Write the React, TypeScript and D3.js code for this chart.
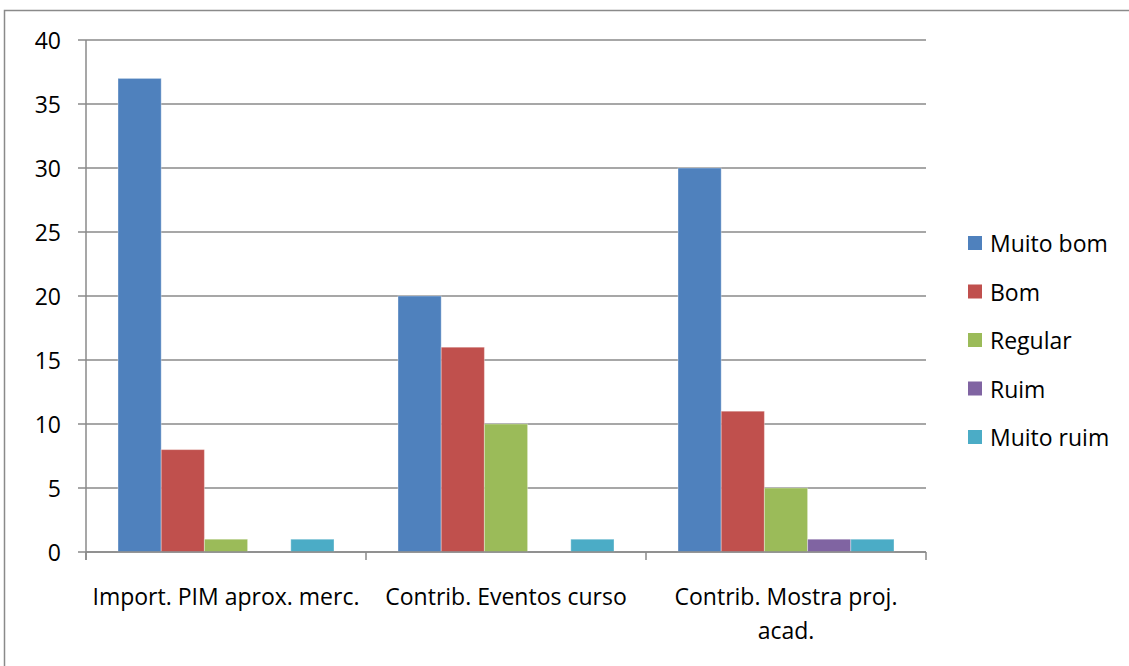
import React, { useEffect, useRef } from "react";
import * as d3 from "d3";

const categories = ["Import. PIM aprox. merc.", "Contrib. Eventos curso", "Contrib. Mostra proj. acad."];
const categoryLines = [["Import. PIM aprox. merc."], ["Contrib. Eventos curso"], ["Contrib. Mostra proj.", "acad."]];
const seriesNames = ["Muito bom", "Bom", "Regular", "Ruim", "Muito ruim"];
const seriesColors = ["#4F81BD", "#C0504D", "#9BBB59", "#8064A2", "#4BACC6"];
const muitoBom = [37, 20, 30];
const bom = [8, 16, 11];
const regular = [1, 10, 5];
const ruim = [0, 0, 1];
const muitoRuim = [1, 1, 1];
const yTicks = [0, 5, 10, 15, 20, 25, 30, 35, 40];

const W = 1129;
const H = 666;
const FONT = "'Open Sans', sans-serif";
const FS = 23;

export default function App() {
  const ref = useRef<SVGSVGElement>(null);
  useEffect(() => {
    const svg = d3.select(ref.current);
    svg.selectAll("*").remove();
    const series = [muitoBom, bom, regular, ruim, muitoRuim];
    const left = 86, right = 926, top = 40, bottom = 552;

    // outer border (clipped at right/bottom)
    svg.append("rect").attr("x", 4.5).attr("y", 10.5).attr("width", W + 20).attr("height", H + 20)
      .attr("fill", "white").attr("stroke", "#8a8a8a").attr("stroke-width", 1.5);

    const y = d3.scaleLinear().domain([0, 40]).range([bottom, top]);
    const x0 = d3.scaleBand<string>().domain(categories).range([left, right]).padding(0);
    const gap = 32;
    const x1 = d3.scaleBand<string>().domain(seriesNames).range([gap, x0.bandwidth() - gap]).padding(0);

    // gridlines + y labels
    const g = svg.append("g");
    yTicks.forEach((t) => {
      g.append("line").attr("x1", 78).attr("x2", right).attr("y1", y(t)).attr("y2", y(t))
        .attr("stroke", "#8a8a8a").attr("stroke-width", 1.5);
      g.append("text").attr("x", 61).attr("y", y(t)).attr("text-anchor", "end")
        .attr("dominant-baseline", "central").attr("font-family", FONT).attr("font-size", FS)
        .attr("fill", "#000").text(String(t));
    });

    // bars
    categories.forEach((c, ci) => {
      seriesNames.forEach((s, si) => {
        const v = series[si][ci];
        if (v <= 0) return;
        svg.append("rect")
          .attr("x", (x0(c) as number) + (x1(s) as number))
          .attr("y", y(v))
          .attr("width", x1.bandwidth())
          .attr("height", y(0) - y(v))
          .attr("fill", seriesColors[si])
          .attr("stroke", "rgba(255,255,255,0.35)")
          .attr("stroke-width", 1);
      });
    });

    // axes
    svg.append("line").attr("x1", left).attr("x2", left).attr("y1", top).attr("y2", bottom + 8)
      .attr("stroke", "#8a8a8a").attr("stroke-width", 1.5);
    svg.append("line").attr("x1", left).attr("x2", right).attr("y1", bottom).attr("y2", bottom)
      .attr("stroke", "#8a8a8a").attr("stroke-width", 1.5);
    [0, 1, 2, 3].forEach((i) => {
      const xx = left + i * x0.bandwidth();
      svg.append("line").attr("x1", xx).attr("x2", xx).attr("y1", bottom).attr("y2", bottom + 8)
        .attr("stroke", "#8a8a8a").attr("stroke-width", 1.5);
    });

    // category labels
    categories.forEach((c, ci) => {
      const cx = (x0(c) as number) + x0.bandwidth() / 2;
      categoryLines[ci].forEach((line, li) => {
        svg.append("text").attr("x", cx).attr("y", 596 + li * 34).attr("text-anchor", "middle")
          .attr("dominant-baseline", "central").attr("font-family", FONT).attr("font-size", FS)
          .attr("fill", "#000").text(line);
      });
    });

    // legend
    seriesNames.forEach((s, si) => {
      const cy = 243 + si * 48.5;
      svg.append("rect").attr("x", 968).attr("y", cy - 7).attr("width", 14).attr("height", 14)
        .attr("fill", seriesColors[si]);
      svg.append("text").attr("x", 990).attr("y", cy).attr("dominant-baseline", "central")
        .attr("font-family", FONT).attr("font-size", FS).attr("fill", "#000").text(s);
    });
  }, []);
  return (
    <svg ref={ref} width={W} height={H} style={{ position: "absolute", left: 0, top: 0 }} />
  );
}
